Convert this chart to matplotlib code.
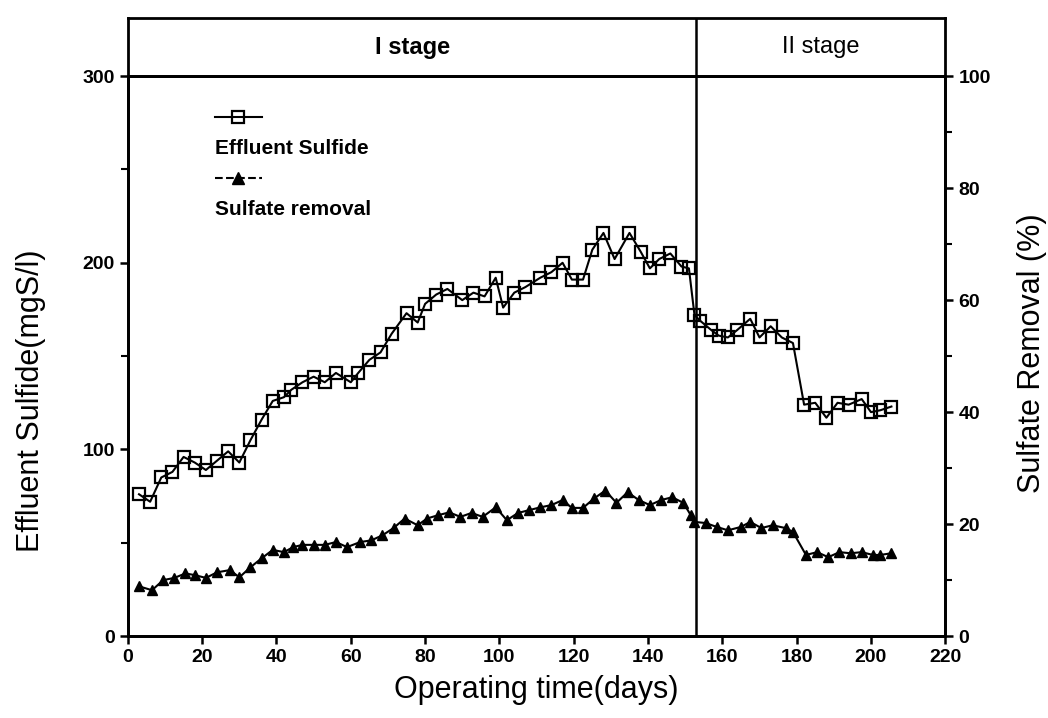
import matplotlib.pyplot as plt
import matplotlib.lines as mlines
from matplotlib.ticker import MultipleLocator

plt.rcParams['font.family'] = ['Liberation Sans', 'DejaVu Sans']

# effluent sulfide (mgS/l)
days_s = [3, 6, 9, 12, 15, 18, 21, 24, 27, 30, 33, 36, 39, 42, 44, 47, 50, 53,
          56, 60, 62, 65, 68, 71, 75, 78, 80, 83, 86, 90, 93, 96, 99, 101, 104,
          107, 111, 114, 117, 119.5, 122.5, 125, 128, 131, 135, 138, 140.5, 143,
          146, 149, 151, 152.5, 154, 157, 159, 161.5, 164, 167.5, 170, 173, 176,
          179, 182, 185, 188, 191, 194, 197.5, 200, 202.5, 205.5]
sulfide = [76, 72, 85, 88, 96, 93, 89, 94, 99, 93, 105, 116, 126, 128, 132, 136,
           139, 136, 141, 136, 141, 148, 152, 162, 173, 168, 178, 183, 186, 180,
           184, 182, 192, 176, 184, 187, 192, 195, 200, 191, 191, 207, 216, 202,
           216, 206, 197, 202, 205, 198, 197, 172, 169, 164, 161, 160, 164, 170,
           160, 166, 160, 157, 124, 125, 117, 125, 124, 127, 120, 121, 123]

# sulfate removal (%)
days_r = [3, 6.5, 9.5, 12.5, 15.5, 18, 21, 24, 27.5, 30, 33, 36, 39, 42, 44.5,
          47, 50, 53, 56, 59, 62.5, 65.5, 68.5, 71.5, 74.5, 78, 80.5, 83.5, 86.5,
          89.5, 92.5, 95.5, 99, 102, 105, 108, 111, 114, 117, 119.5, 122.5, 125.5,
          128.5, 131.5, 134.5, 137.5, 140.5, 143.5, 146.5, 149.5, 151.5, 152.5,
          155.5, 158.5, 161.5, 165, 167.5, 170.5, 173.5, 177, 179, 182.5, 185.5,
          188.5, 191.5, 194.5, 197.5, 200.5, 202.5, 205.5]
removal = [8.9, 8.2, 10.0, 10.4, 11.2, 10.9, 10.4, 11.4, 11.8, 10.5, 12.3, 13.9,
           15.4, 15.0, 15.9, 16.3, 16.3, 16.3, 16.8, 15.9, 16.8, 17.1, 18.0, 19.3,
           21.0, 19.8, 21.0, 21.6, 22.1, 21.3, 22.0, 21.3, 23.0, 20.7, 22.0, 22.5,
           23.0, 23.4, 24.3, 22.9, 22.9, 24.6, 26.0, 23.8, 25.7, 24.3, 23.4, 24.3,
           24.8, 23.8, 21.6, 20.4, 20.2, 19.5, 18.9, 19.5, 20.4, 19.3, 19.8, 19.3,
           18.6, 14.5, 15.0, 14.1, 15.0, 14.8, 15.0, 14.5, 14.5, 14.8]

stage_split = 153
stages = ['I stage', 'II stage']

fig = plt.figure(figsize=(10.48, 7.18), dpi=100)
ax = fig.add_axes([0.122, 0.114, 0.78, 0.78])
band = fig.add_axes([0.122, 0.894, 0.78, 0.081])

ax.plot(days_s, sulfide, color='black', lw=1.5, marker='s', ms=8,
        mfc='none', mec='black', mew=1.6)
ax.set_xlim(0, 220)
ax.set_ylim(0, 300)
ax.set_xticks(range(0, 221, 20))
ax.set_yticks([0, 100, 200, 300])
ax.yaxis.set_minor_locator(MultipleLocator(50))
ax.axvline(stage_split, color='black', lw=1.8)

ax2 = ax.twinx()
ax2.plot(days_r, removal, color='black', lw=1.5, marker='^', ms=7,
         mfc='black', mec='black')
ax2.set_ylim(0, 100)
ax2.set_yticks(range(0, 101, 20))
ax2.yaxis.set_minor_locator(MultipleLocator(10))

for a in (ax, ax2):
    for s in a.spines.values():
        s.set_linewidth(2)
    a.tick_params(width=1.8, length=6, labelsize=14, direction='out')
    a.tick_params(which='minor', width=1.5, length=5, direction='out')
    for lab in a.get_xticklabels() + a.get_yticklabels():
        lab.set_fontweight('bold')

ax.set_xlabel('Operating time(days)', fontsize=22, labelpad=6)
ax.set_ylabel('Effluent Sulfide(mgS/l)', fontsize=22)
ax2.set_ylabel('Sulfate Removal (%)', fontsize=22)
ax.yaxis.set_label_coords(-0.100, 0.42)
ax2.yaxis.set_label_coords(1.088, 0.505)

# stage band
band.set_xlim(0, 220)
band.set_ylim(0, 1)
band.set_xticks([])
band.set_yticks([])
for s in band.spines.values():
    s.set_linewidth(2)
band.axvline(stage_split, color='black', lw=1.8)
band.text(stage_split / 2, 0.5, stages[0], ha='center', va='center',
          fontsize=17, fontweight='bold')
band.text((stage_split + 220) / 2, 0.5, stages[1], ha='center', va='center',
          fontsize=17)

# legend drawn with the sample above the label
ax.add_line(mlines.Line2D([0.106, 0.164], [0.927, 0.927], transform=ax.transAxes,
                          color='black', lw=1.5))
ax.plot([0.135], [0.927], transform=ax.transAxes, marker='s', ms=8,
        mfc='none', mec='black', mew=1.6)
ax.text(0.106, 0.871, 'Effluent Sulfide', transform=ax.transAxes,
        fontsize=15, fontweight='bold', va='center', ha='left')
ax.add_line(mlines.Line2D([0.106, 0.164], [0.818, 0.818], transform=ax.transAxes,
                          color='black', lw=1.5, ls='--'))
ax.plot([0.135], [0.818], transform=ax.transAxes, marker='^', ms=8,
        color='black')
ax.text(0.106, 0.761, 'Sulfate removal', transform=ax.transAxes,
        fontsize=15, fontweight='bold', va='center', ha='left')

fig.savefig('out.png', dpi=100)
